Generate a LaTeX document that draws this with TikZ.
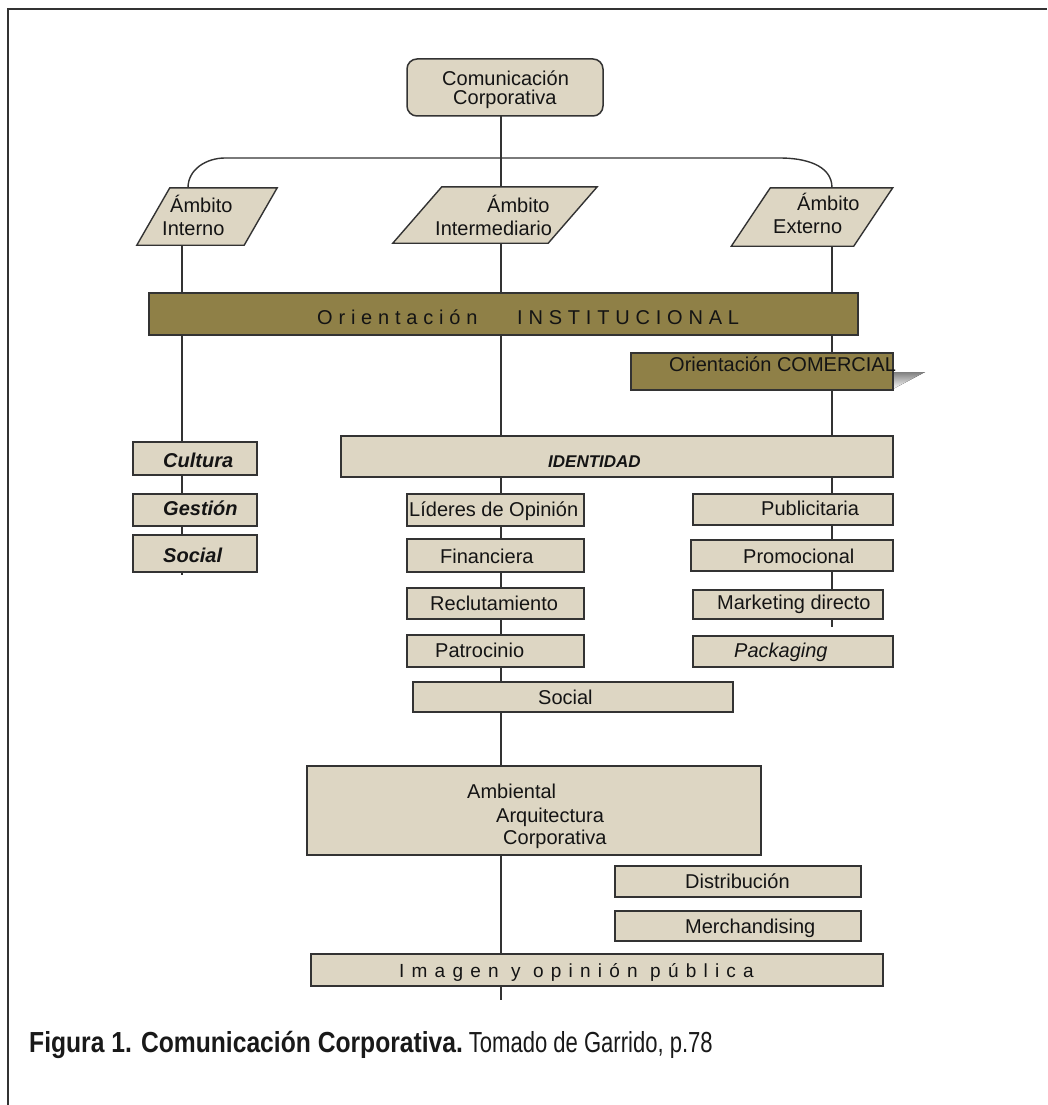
\documentclass[tikz,border=0pt]{standalone}
\usepackage{fontspec}
\setmainfont{Liberation Sans}
\newfontfamily\trackfont[LetterSpace=29]{Liberation Sans}
\newfontfamily\trackfontb[LetterSpace=38]{Liberation Sans}
\newfontfamily\capfontb[FakeStretch=0.85]{Liberation Sans}
\newfontfamily\capfontr[FakeStretch=0.76]{Liberation Sans}
\definecolor{beige}{HTML}{DDD6C3}
\definecolor{olive}{HTML}{8F8047}
\definecolor{edge}{HTML}{333333}
\definecolor{shade}{HTML}{B9B9C0}
\newcommand\mybox[6]{%
  \node[#1, minimum width={(#5-#3)*1pt}, minimum height={(#6-#4)*1pt}] (#2) at ({(#3+#5)/2},{(#4+#6)/2}) {};}
\newcommand\mypara[6]{%
  \node[inner sep=0pt, minimum width={#4*1pt}, minimum height={#5*1pt}] (#1) at (#2,#3) {};
  \draw[pbox] ([xshift={#6/2*1pt}]#1.north west) -- ([xshift={#6/2*1pt}]#1.north east) -- ([xshift={-#6/2*1pt}]#1.south east) -- ([xshift={-#6/2*1pt}]#1.south west) -- cycle;}
\begin{document}
\begin{tikzpicture}[x=1pt,y=-1pt,
  lbox/.style={draw=edge, line width=1.5pt, fill=beige, inner sep=0pt, rectangle},
  obox/.style={draw=edge, line width=1.5pt, fill=olive, inner sep=0pt, rectangle},
  pbox/.style={draw=edge, line width=1.4pt, fill=beige},
  link/.style={draw=edge, line width=1.4pt},
  txt/.style={inner sep=0pt, anchor=base west, text=black!92, font=\fontsize{20}{22}\selectfont},
  btxt/.style={txt, font=\fontsize{20}{22}\selectfont\bfseries\itshape},
  stxt/.style={txt, font=\trackfont\fontsize{20}{22}\selectfont},
  ]
\useasboundingbox (0,0) rectangle (1047,1105);
\fill[white] (0,0) rectangle (1047,1105);
% frame
\draw[edge, line width=2.2pt] (8,1105) -- (8,9) -- (1047,9);

% coordinates for free ends
\coordinate (mainend) at (501,1000);
\coordinate (leftend) at (182,575);
\coordinate (rightend) at (832,627);
\coordinate (cL) at (188,188);
\coordinate (cR) at (832,188);

% invisible frames of parallelograms (for connectors)
\node[inner sep=0pt, minimum width=107pt, minimum height=57pt] (ambIf) at (207,216.5) {};
\node[inner sep=0pt, minimum width=155pt, minimum height=56pt] (ambMf) at (495,215) {};
\node[inner sep=0pt, minimum width=122pt, minimum height=58pt] (ambEf) at (812,217) {};

% connectors (behind boxes)
\draw[link] (mainend |- 0,116) -- (mainend);
\draw[link] (ambIf.south -| leftend) -- (leftend);
\draw[link] (ambEf.south -| rightend) -- (rightend);
\draw[link] (ambIf.north -| cL) to[out=90,in=180] (225,158) -- (780,158) to[out=0,in=90] (ambEf.north -| cR);

% top box
\mybox{lbox, rounded corners=10pt}{top}{407}{59}{603}{116}

% parallelograms
\mypara{ambI}{207}{216.5}{107}{57}{33}
\mypara{ambM}{495}{215}{155}{56}{49}
\mypara{ambE}{812}{217}{122}{58}{39}

% orientation bars
\mybox{obox}{inst}{149}{293}{858}{335}
\fill[shade] (893,372) -- (925,372) -- (893,389) -- cycle;
\mybox{obox}{com}{631}{353}{893}{390}

% left column
\mybox{lbox}{cult}{133}{442}{257}{475}
\mybox{lbox}{gest}{133}{494}{257}{526}
\mybox{lbox}{socl}{133}{535}{257}{572}

% identity
\mybox{lbox}{iden}{341}{436}{893}{477}

% middle column
\mybox{lbox}{lid}{407}{494}{584}{526}
\mybox{lbox}{fin}{407}{539}{584}{572}
\mybox{lbox}{rec}{407}{588}{584}{619}
\mybox{lbox}{pat}{407}{635}{584}{667}
\mybox{lbox}{socm}{413}{682}{733}{712}

% right column
\mybox{lbox}{pub}{693}{494}{893}{525}
\mybox{lbox}{pro}{691}{540}{893}{571}
\mybox{lbox}{mkt}{693}{590}{883}{619}
\mybox{lbox}{pck}{693}{636}{893}{667}

% lower part
\mybox{lbox}{amb}{307}{766}{761}{855}
\mybox{lbox}{dis}{615}{866}{861}{897}
\mybox{lbox}{mer}{615}{911}{861}{941}
\mybox{lbox}{img}{311}{954}{883}{986}

% texts
\node[txt] (tcom1) at (442,86) {Comunicación};
\node[txt] (tcom2) at (453,105) {Corporativa};
\node[txt] (tai1) at (170,212) {Ámbito};
\node[txt] (tai2) at (162,235) {Interno};
\node[txt] (tam1) at (487,212) {Ámbito};
\node[txt] (tam2) at (435,235) {Intermediario};
\node[txt] (tae1) at (797,210) {Ámbito};
\node[txt] (tae2) at (773,233) {Externo};
\node[stxt] (tinst1) at (317,324) {Orientación};
\node[stxt] (tinst2) at (517,324) {INSTITUCIONAL};
\node[txt] (tcomr) at (669,371) {Orientación COMERCIAL};
\node[btxt] (tcult) at (163,467) {Cultura};
\node[btxt, font=\fontsize{17}{20}\selectfont\bfseries\itshape] (tiden) at (548,467) {IDENTIDAD};
\node[btxt] (tgest) at (163,515) {Gestión};
\node[btxt] (tsocl) at (163,562) {Social};
\node[txt] (tlid) at (409,516) {Líderes de Opinión};
\node[txt] (tfin) at (440,563) {Financiera};
\node[txt] (trec) at (430,610) {Reclutamiento};
\node[txt] (tpat) at (435,657) {Patrocinio};
\node[txt] (tsocm) at (538,704) {Social};
\node[txt] (tpub) at (761,515) {Publicitaria};
\node[txt] (tpro) at (743,563) {Promocional};
\node[txt] (tmkt) at (717,609) {Marketing directo};
\node[txt, font=\fontsize{20}{22}\selectfont\itshape] (tpck) at (734,657) {Packaging};
\node[txt] (tamb1) at (467,798) {Ambiental};
\node[txt] (tamb2) at (496,822) {Arquitectura};
\node[txt] (tamb3) at (503,844) {Corporativa};
\node[txt] (tdis) at (685,888) {Distribución};
\node[txt] (tmer) at (685,933) {Merchandising};
\node[txt, font=\trackfontb\fontsize{19}{22}\selectfont] (timg) at (399,977) {Imagen y opinión pública};
\node[inner sep=0pt, anchor=base west, text=black!90, font=\fontsize{29}{32}\selectfont] (cap) at (29,1052) {{\capfontb\bfseries Figura 1. Comunicación Corporativa.}\hspace{6pt}{\capfontr Tomado de Garrido, p.78}};
\end{tikzpicture}
\end{document}
